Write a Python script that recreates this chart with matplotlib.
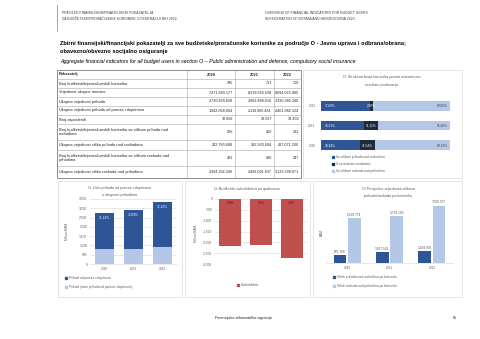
import numpy as np
import matplotlib.pyplot as plt
from matplotlib.patches import Rectangle

plt.rcParams['font.family'] = ['Liberation Sans', 'DejaVu Sans']

years = ['2020', '2021', '2022']

# table values
broj_korisnika = [745, 753, 750]
imovina = [7471860177, 8319644538, 8694023485]
prihodi = [2730829828, 2902888016, 3330385348]
porezi = [1942058064, 2119906481, 2401882124]
zaposleni = [32892, 33037, 33356]
broj_visak_prihoda = [226, 250, 282]
visak_prihoda = [222783608, 355560694, 417071266]
broj_visak_rashoda = [433, 436, 447]
visak_rashoda = [2394392349, 2493091637, 3133339071]

row_labels = [
    'Broj budžetskih/proračunskih korisnika',
    'Vrijednost ukupne imovine',
    'Ukupna vrijednost prihoda',
    'Ukupna vrijednost prihoda od poreza i doprinosa',
    'Broj zaposlenih',
    'Broj budžetskih/proračunskih korisnika sa viškom prihoda nad\nrashodima',
    'Ukupna vrijednost viška prihoda nad rashodima',
    'Broj budžetskih/proračunskih korisnika sa viškom rashoda nad\nprihodima',
    'Ukupna vrijednost viška rashoda nad prihodima',
]
row_values = [broj_korisnika, imovina, prihodi, porezi, zaposleni,
              broj_visak_prihoda, visak_prihoda, broj_visak_rashoda, visak_rashoda]

# structure chart (percent of users)
struct_years = ['2022', '2021', '2020']
pct_prihod = [37.60, 33.21, 30.34]
pct_neutral = [2.80, 11.11, 11.54]
pct_rashod = [59.60, 55.68, 58.12]

# average surplus / deficit per user
avg_prihod = [985768, 1367541, 1478976]
avg_rashod = [5529774, 5718100, 7009707]

DARK = '#2F5597'
LIGHT = '#B4C7E7'
NAVY = '#1F2B3D'
RED = '#C0504D'
GRID = '#D9D9D9'
TXT = '#595959'

W, H = 480, 339
fig = plt.figure(figsize=(4.8, 3.39), dpi=100)
page = fig.add_axes([0, 0, 1, 1])
page.set_xlim(0, W)
page.set_ylim(H, 0)
page.axis('off')


def pax(x0, y0, x1, y1):
    return fig.add_axes([x0 / W, 1 - y1 / H, (x1 - x0) / W, (y1 - y0) / H])


def fmt(v):
    return f'{v:,.0f}'.replace(',', '.')


# header
page.plot([57, 57], [5, 31], color='#808080', lw=0.5)
hs = dict(fontsize=2.5, color='#404040', va='center')
page.text(62, 13, 'PREGLED FINANSIJSKIH/FINANCIJSKIH POKAZATELJA', **hs)
page.text(62, 19, 'ZA BUDŽETSKE/PRORAČUNSKE KORISNIKE U FEDERACIJI BIH 2022.', **hs)
page.text(265, 13, 'OVERVIEW OF FINANCIAL INDICATORS FOR BUDGET USERS', **hs)
page.text(265, 19, 'IN FEDERATION OF BOSNIA AND HERZEGOVINA 2022.', **hs)

page.text(60, 44, 'Zbirni finansijski/financijski pokazatelji za sve budžetske/proračunske korisnike za područje O - '
          'Javna uprava i odbrana/obrana;', fontsize=4.1, weight='bold', va='center')
page.text(60, 52, 'obavezno/obvezno socijalno osiguranje', fontsize=4.1, weight='bold', va='center')
page.text(60, 61, 'Aggregate financial indicators for all budget users in section O \u2013 Public administration '
          'and defence, compulsory social insurance', fontsize=3.75, style='italic', va='center')

# table
col_x = [57, 187, 235, 274, 301]
row_y = [70, 79, 88, 97, 106, 115, 124, 140, 150, 166, 178]
for y in row_y:
    page.plot([col_x[0], col_x[-1]], [y, y], color='#A6A6A6', lw=0.4)
for x in col_x:
    page.plot([x, x], [row_y[0], row_y[-1]], color='#A6A6A6', lw=0.4)
page.add_patch(Rectangle((col_x[0], row_y[0]), col_x[-1] - col_x[0], row_y[-1] - row_y[0],
                         fill=False, ec='#595959', lw=0.6))
ts = dict(fontsize=2.85, color='#262626', va='center')
page.text(col_x[0] + 2, (row_y[0] + row_y[1]) / 2, 'Pokazatelj', weight='bold', **ts)
for j, yr in enumerate(years):
    page.text((col_x[j + 1] + col_x[j + 2]) / 2, (row_y[0] + row_y[1]) / 2, yr,
              weight='bold', ha='center', **ts)
vs = dict(ts, fontsize=2.7)
for i, (lab, vals) in enumerate(zip(row_labels, row_values)):
    yc = (row_y[i + 1] + row_y[i + 2]) / 2
    page.text(col_x[0] + 2, yc, lab, linespacing=1.3, **ts)
    for j, v in enumerate(vals):
        page.text(col_x[j + 2] - 2, yc, fmt(v), ha='right', **vs)

# chart boxes
for (x0, y0, x1, y1) in [(303, 70, 462, 178), (58, 181, 182, 297),
                         (185, 181, 310, 297), (313, 181, 462, 297)]:
    page.add_patch(Rectangle((x0, y0), x1 - x0, y1 - y0, fill=False, ec=GRID, lw=0.5))

small = 2.35

# chart: structure of users (horizontal stacked)
page.text(382, 77, 'O: Struktura broja korisnika prema ostvarenom', fontsize=2.7, color=TXT,
          ha='center', va='center')
page.text(382, 85, 'rezultatu poslovanja', fontsize=2.7, color=TXT, ha='center', va='center')
ax3 = pax(321, 96, 450, 155)
yy = np.arange(len(struct_years))
left2 = np.array(pct_prihod) + np.array(pct_neutral)
ax3.barh(yy, pct_prihod, height=0.5, color=DARK)
ax3.barh(yy, pct_neutral, left=pct_prihod, height=0.5, color=NAVY)
ax3.barh(yy, pct_rashod, left=left2, height=0.5, color=LIGHT)
for k in range(len(struct_years)):
    ax3.text(3, k, f'{pct_prihod[k]:.2f}%'.replace('.', ','), color='white', fontsize=small, va='center')
    ax3.text(pct_prihod[k] + pct_neutral[k] / 2, k, f'{pct_neutral[k]:.2f}%'.replace('.', ','),
             color='white', fontsize=small, va='center', ha='center')
    ax3.text(98, k, f'{pct_rashod[k]:.2f}%'.replace('.', ','), color='#404040', fontsize=small,
             va='center', ha='right')
ax3.set_xlim(0, 100)
ax3.set_ylim(2.5, -0.5)
ax3.set_yticks(yy)
ax3.set_yticklabels(struct_years, fontsize=small, color=TXT)
ax3.set_xticks([])
ax3.tick_params(length=0, pad=4)
for s in ax3.spines.values():
    s.set_visible(False)
leg3 = [('Sa viškom prihoda nad rashodima', DARK), ('S neutralnim rezultatom', NAVY),
        ('Sa viškom rashoda nad prihodima', LIGHT)]
for k, (lab, c) in enumerate(leg3):
    page.add_patch(Rectangle((332, 156 + 7 * k), 2, 2, color=c))
    page.text(336, 157 + 7 * k, lab, fontsize=small, color=TXT, va='center')

# chart 1: share of tax revenue
page.text(120, 188, 'O: Udio prihoda od poreza i doprinosa', fontsize=2.7, color=TXT, ha='center', va='center')
page.text(120, 195, 'u ukupnim prihodima', fontsize=2.7, color=TXT, ha='center', va='center')
ax1 = pax(90, 199, 177, 264)
x = np.arange(len(years))
por_m = np.array(porezi) / 1e6
ost_m = (np.array(prihodi) - np.array(porezi)) / 1e6
ax1.bar(x, ost_m, width=0.64, color=LIGHT, zorder=2)
ax1.bar(x, por_m, bottom=ost_m, width=0.64, color=DARK, zorder=2)
for k in range(len(years)):
    pct = porezi[k] / prihodi[k] * 100
    ax1.text(x[k], ost_m[k] + por_m[k] - 120, f'{pct:.2f}%'.replace('.', ','), color='white',
             fontsize=small, ha='center', va='top')
ax1.set_ylim(0, 3500)
ax1.set_xlim(-0.5, 2.5)
ax1.set_yticks(np.arange(0, 3501, 500))
ax1.set_yticklabels([fmt(v) for v in np.arange(0, 3501, 500)], fontsize=small, color=TXT)
ax1.set_xticks(x)
ax1.set_xticklabels(years, fontsize=small, color=TXT)
ax1.tick_params(length=0, pad=2)
ax1.grid(axis='y', color=GRID, lw=0.4, zorder=0)
for s in ax1.spines.values():
    s.set_visible(False)
ax1.spines['bottom'].set_visible(True)
ax1.spines['bottom'].set_color(GRID)
ax1.spines['bottom'].set_linewidth(0.4)
page.text(67, 231, 'Milioni BAM', fontsize=small, color=TXT, rotation=90, ha='center', va='center')
page.add_patch(Rectangle((65, 277), 2, 2, color=DARK))
page.text(69, 278, 'Prihodi od poreza i doprinosa', fontsize=small, color=TXT, va='center')
page.add_patch(Rectangle((65, 286), 2, 2, color=LIGHT))
page.text(69, 287, 'Prihodi (osim prihoda od poreza i doprinosa)', fontsize=small, color=TXT, va='center')

# chart 2: surplus / deficit
page.text(247, 189, 'O: Budžetski suficit/deficit po godinama', fontsize=2.7, color=TXT, ha='center', va='center')
ax2 = pax(215, 199, 307, 264)
sufdef = (np.array(visak_prihoda) - np.array(visak_rashoda)) / 1e6
ax2.bar(x, sufdef, width=0.72, color=RED, zorder=2)
for k in range(len(years)):
    ax2.text(x[k], -110, years[k], fontsize=small, color='#262626', ha='center', va='top')
ax2.set_ylim(-3000, 0)
ax2.set_xlim(-0.5, 2.5)
ticks2 = np.arange(-3000, 1, 500)
ax2.set_yticks(ticks2)
ax2.set_yticklabels([fmt(v) for v in ticks2], fontsize=small, color=TXT)
ax2.set_xticks([])
ax2.tick_params(length=0, pad=2)
ax2.grid(axis='y', color=GRID, lw=0.4, zorder=0)
for s in ax2.spines.values():
    s.set_visible(False)
page.text(196, 233, 'Milioni BAM', fontsize=small, color=TXT, rotation=90, ha='center', va='center')
page.add_patch(Rectangle((237, 284), 2, 2, color=RED))
page.text(241, 285, 'Suficit/deficit', fontsize=small, color=TXT, va='center')

# chart 4: average values per user
page.text(388, 189, 'O: Prosječne vrijednosti viškova', fontsize=2.7, color=TXT, ha='center', va='center')
page.text(388, 196, 'prihoda/rashoda po korisniku', fontsize=2.7, color=TXT, ha='center', va='center')
ax4 = pax(326, 200, 453, 263)
bw = 0.3
ax4.bar(x - bw / 2 - 0.02, avg_prihod, width=bw, color=DARK)
ax4.bar(x + bw / 2 + 0.02, avg_rashod, width=bw, color=LIGHT)
for k in range(len(years)):
    ax4.text(x[k] - bw / 2 - 0.02, avg_prihod[k] + 150000, fmt(avg_prihod[k]), fontsize=small,
             color=TXT, ha='center', va='bottom')
    ax4.text(x[k] + bw / 2 + 0.02, avg_rashod[k] + 150000, fmt(avg_rashod[k]), fontsize=small,
             color=TXT, ha='center', va='bottom')
ax4.set_ylim(0, 7700000)
ax4.set_xlim(-0.5, 2.5)
ax4.set_yticks([])
ax4.set_xticks(x)
ax4.set_xticklabels(years, fontsize=small, color=TXT)
ax4.tick_params(length=0, pad=2)
for s in ax4.spines.values():
    s.set_visible(False)
ax4.spines['bottom'].set_visible(True)
ax4.spines['bottom'].set_color(GRID)
ax4.spines['bottom'].set_linewidth(0.4)
page.text(322, 232, 'BAM', fontsize=small, color=TXT, rotation=90, ha='center', va='center')
page.add_patch(Rectangle((333, 276), 2, 2, color=DARK))
page.text(337, 277, 'Višak prihoda nad rashodima po korisniku', fontsize=small, color=TXT, va='center')
page.add_patch(Rectangle((333, 285), 2, 2, color=LIGHT))
page.text(337, 286, 'Višak rashoda nad prihodima po korisniku', fontsize=small, color=TXT, va='center')

# footer
page.text(243, 318, 'Finansijsko-informatička agencija', fontsize=2.8, color='#262626', ha='center', va='center')
page.text(455, 318, '85', fontsize=2.8, color='#262626', ha='center', va='center')

fig.savefig('out.png', dpi=100, facecolor='white')
